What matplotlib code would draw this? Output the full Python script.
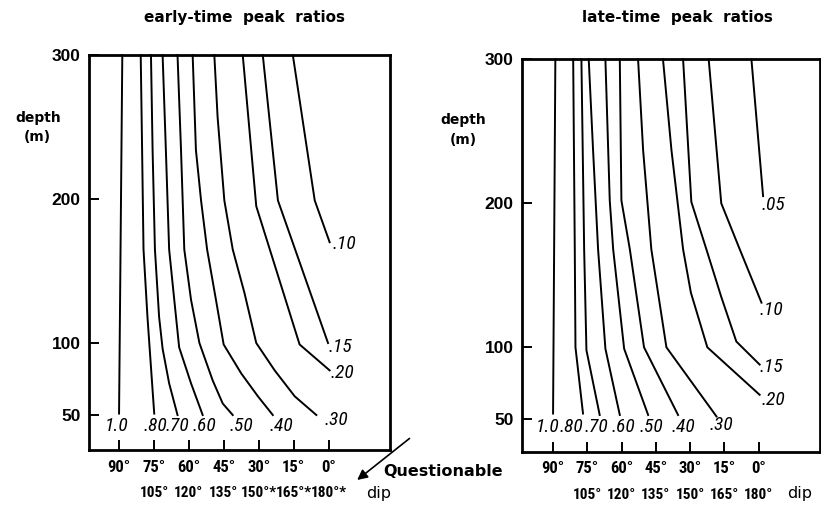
import matplotlib
matplotlib.use("Agg")
import matplotlib.pyplot as plt
from matplotlib import font_manager
from matplotlib.patches import FancyArrowPatch

# ---------------------------------------------------------------------------
# Contour polylines: dip position (deg) and depth (m) for each peak-ratio level
# ---------------------------------------------------------------------------
levels_early = ["1.0", ".80", ".70", ".60", ".50", ".40", ".30", ".20", ".15", ".10"]
early_dips = {
    "1.0": [88.6, 90.0],
    ".80": [80.7, 80.1, 79.5, 77.8, 74.9],
    ".70": [76.3, 75.6, 74.6, 72.8, 71.3, 68.5, 64.9],
    ".60": [71.3, 69.9, 68.5, 66.3, 64.2, 59.1, 54.1],
    ".50": [64.9, 63.4, 62.0, 59.1, 55.5, 49.8, 45.5, 41.2],
    ".40": [58.4, 57.0, 54.8, 52.2, 48.4, 45.1, 37.6, 30.4, 24.0],
    ".30": [49.1, 47.7, 44.8, 41.2, 36.2, 31.1, 23.2, 14.6, 5.3],
    ".20": [36.9, 31.1, 12.5, -0.4],
    ".15": [28.3, 21.8, 0.3],
    ".10": [15.4, 6.0, -0.4],
}
early_depths = {
    "1.0": [300, 51],
    ".80": [300, 234, 165, 118, 51],
    ".70": [300, 234, 165, 118, 96, 72, 50],
    ".60": [300, 234, 165, 130, 97, 72, 50],
    ".50": [300, 234, 165, 130, 100, 74, 58, 50],
    ".40": [300, 234, 199, 165, 130, 99, 79, 63, 50],
    ".30": [300, 257, 199, 165, 135, 100, 81, 63, 50],
    ".20": [300, 195, 99, 81],
    ".15": [300, 199, 100],
    ".10": [300, 199, 170],
}

levels_late = ["1.0", ".80", ".70", ".60", ".50", ".40", ".30", ".20", ".15", ".10", ".05"]
late_dips = {
    "1.0": [89.0, 90.0],
    ".80": [81.2, 80.5, 80.2, 76.9],
    ".70": [77.6, 76.4, 75.4, 69.6],
    ".60": [74.4, 72.5, 70.3, 67.1, 60.8],
    ".50": [67.1, 65.2, 63.7, 58.9, 48.4],
    ".40": [60.8, 60.1, 56.4, 50.2, 35.3],
    ".30": [52.8, 50.6, 47.0, 40.4, 18.5],
    ".20": [41.9, 38.2, 33.1, 29.7, 22.5, -0.4],
    ".15": [33.1, 29.5, 22.9, 16.4, 9.8, -0.4],
    ".10": [21.9, 16.4, 8.3, -1.2],
    ".05": [3.2, -1.9],
}
late_depths = {
    "1.0": [300, 54],
    ".80": [300, 168, 100, 54],
    ".70": [300, 168, 98, 53],
    ".60": [300, 237, 168, 99, 53],
    ".50": [300, 202, 168, 99, 53],
    ".40": [300, 202, 168, 100, 53],
    ".30": [300, 237, 168, 100, 52],
    ".20": [300, 237, 168, 138, 100, 67],
    ".15": [300, 201, 168, 135, 104, 88],
    ".10": [300, 200, 168, 131],
    ".05": [300, 205],
}

# Axis ticks
depth_ticks = [50, 100, 200, 300]
dip_ticks = [90, 75, 60, 45, 30, 15, 0]
dip_labels = ["90°", "75°", "60°", "45°", "30°", "15°", "0°"]
dip_labels_supp_early = ["", "105°", "120°", "135°", "150°*", "165°*", "180°*"]
dip_labels_supp_late = ["", "105°", "120°", "135°", "150°", "165°", "180°"]

# Where each level's label sits (dip, depth)
early_label_pos = {
    "1.0": (90.9, 42.4), ".80": (74.5, 42.4), ".70": (65.0, 42.4),
    ".60": (53.4, 42.4), ".50": (37.5, 42.4), ".40": (20.2, 42.4),
    ".30": (-3.5, 46.5), ".20": (-6.0, 79.2), ".15": (-4.8, 97.2),
    ".10": (-6.9, 168.8),
}
late_label_pos = {
    "1.0": (92.2, 44.9), ".80": (82.0, 44.9), ".70": (71.1, 44.9),
    ".60": (59.4, 44.9), ".50": (47.0, 44.9), ".40": (33.1, 44.9),
    ".30": (16.4, 46.0), ".20": (-6.3, 63.4), ".15": (-5.5, 86.5),
    ".10": (-5.5, 126.0), ".05": (-6.3, 199.0),
}

# ---------------------------------------------------------------------------
installed = {f.name for f in font_manager.fontManager.ttflist}
narrow = next((n for n in ["Liberation Sans Narrow", "DejaVu Sans Condensed",
                           "Roboto Condensed"] if n in installed), "DejaVu Sans")
plt.rcParams["font.family"] = ["DejaVu Sans"]

fig = plt.figure(figsize=(8.21, 5.09), dpi=100)
ax_early = fig.add_axes([0.1084, 0.1159, 0.3666, 0.776])
ax_late = fig.add_axes([0.6358, 0.1126, 0.3624, 0.7709])


def draw_panel(ax, levels, dips, depths, label_pos, supp, ylim_low, xlim):
    for lev in levels:
        ax.plot(dips[lev], depths[lev], color="black", lw=1.4,
                solid_joinstyle="round", clip_on=False)
        x, y = label_pos[lev]
        ax.text(x, y, lev, ha="center", va="center", fontsize=14,
                style="italic", family=[narrow, "DejaVu Sans"], color="black")
    ax.set_xlim(*xlim)
    ax.set_ylim(ylim_low, 300)
    for s in ax.spines.values():
        s.set_linewidth(2.0)
    ax.set_yticks(depth_ticks)
    ax.set_yticklabels([str(t) for t in depth_ticks], fontsize=12.5,
                       fontweight="bold", family="Liberation Sans")
    ax.set_xticks(dip_ticks)
    ax.set_xticklabels(dip_labels, fontsize=12, fontweight="bold",
                       family=[narrow, "DejaVu Sans"])
    ax.tick_params(axis="both", direction="in", length=7, width=1.4)
    ax.tick_params(axis="x", pad=7)
    ax.tick_params(axis="y", pad=6)
    for d, lbl in zip(dip_ticks, supp):
        if lbl:
            ax.annotate(lbl, xy=(d, 0), xycoords=("data", "axes fraction"),
                        xytext=(0, -31), textcoords="offset points",
                        ha="center", va="center", fontsize=11,
                        fontweight="bold", family=[narrow, "DejaVu Sans"])


draw_panel(ax_early, levels_early, early_dips, early_depths, early_label_pos,
           dip_labels_supp_early, 25.7, (102.9, -26.3))
draw_panel(ax_late, levels_late, late_dips, late_depths, late_label_pos,
           dip_labels_supp_late, 27.5, (103.6, -26.6))

# Titles and axis captions
fig.text(0.2984, 0.9666, "early-time  peak  ratios",
         ha="center", va="center", fontsize=11, fontweight="bold")
fig.text(0.8246, 0.9666, "late-time  peak  ratios",
         ha="center", va="center", fontsize=11, fontweight="bold")
for xc, yd, ym in [(0.046, 0.768, 0.731), (0.564, 0.764, 0.725)]:
    fig.text(xc, yd, "depth", ha="center", va="center", fontsize=10,
             fontweight="bold")
    fig.text(xc, ym, "(m)", ha="center", va="center", fontsize=10,
             fontweight="bold")

fig.text(0.5396, 0.0727, "Questionable", ha="center", va="center",
         fontsize=11.5, fontweight="bold")
fig.text(0.4616, 0.0314, "dip", ha="center", va="center", fontsize=11.5)
fig.text(0.9744, 0.0314, "dip", ha="center", va="center", fontsize=11.5)
fig.add_artist(FancyArrowPatch(
    (411.7 / 821, 1 - 436.7 / 509), (355 / 821, 1 - 481.7 / 509),
    transform=fig.transFigure, arrowstyle="-|>,head_length=6,head_width=3",
    color="black", lw=1.2))

fig.savefig("out.png", dpi=100)
